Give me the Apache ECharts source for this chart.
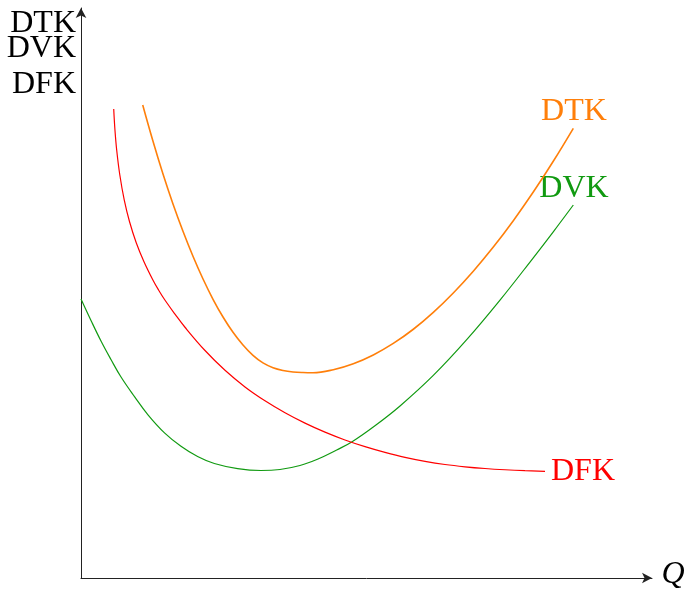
<!DOCTYPE html>
<html>
<head>
<meta charset="utf-8">
<script src="https://cdn.jsdelivr.net/npm/echarts@6/dist/echarts.min.js"></script>
<style>
html,body{margin:0;padding:0;background:#fff;}
#chart{width:694px;height:600px;}
</style>
</head>
<body>
<div id="chart"></div>
<script>
// Quantity (x) and cost per unit (y), arbitrary units
var dtkX = [1.081, 1.261, 1.436, 1.611, 1.786, 1.961, 2.137, 2.312, 2.487, 2.662, 2.837, 3.012, 3.187, 3.363, 3.538,
            3.713, 3.888, 4.063, 4.419, 4.769, 5.119, 5.469, 5.820, 6.170, 6.520, 6.870, 7.221, 7.571, 7.921, 8.271, 8.622];
var dtkY = [8.298, 7.661, 7.086, 6.561, 6.083, 5.645, 5.246, 4.890, 4.579, 4.311, 4.088, 3.906, 3.773, 3.689, 3.641,
            3.615, 3.604, 3.601, 3.654, 3.759, 3.913, 4.115, 4.364, 4.661, 5.001, 5.383, 5.806, 6.269, 6.771, 7.311, 7.889];

var dvkX = [0.000, 0.175, 0.350, 0.525, 0.701, 0.937, 1.173, 1.462, 1.751, 2.042, 2.335, 2.743, 3.152, 3.485, 3.835,
            4.151, 4.478, 4.741, 5.166, 5.587, 6.170, 6.755, 7.338, 7.921, 8.271, 8.622];
var dvkY = [4.895, 4.518, 4.158, 3.833, 3.526, 3.182, 2.863, 2.547, 2.312, 2.132, 2.009, 1.919, 1.886, 1.904, 1.974,
            2.088, 2.246, 2.386, 2.684, 3.018, 3.554, 4.181, 4.875, 5.618, 6.074, 6.544];

var dfkX = [0.573, 0.594, 0.625, 0.680, 0.757, 0.849, 0.969, 1.101, 1.259, 1.358, 1.469, 1.646, 1.821, 2.172, 2.522,
            2.872, 3.222, 3.573, 3.923, 4.273, 4.623, 4.974, 5.324, 5.674, 6.025, 6.375, 6.725, 7.075, 7.426, 7.776, 8.126];
var dfkY = [8.228, 7.868, 7.509, 7.070, 6.632, 6.254, 5.877, 5.553, 5.228, 5.053, 4.877, 4.629, 4.399, 3.991, 3.644,
            3.352, 3.109, 2.899, 2.717, 2.559, 2.422, 2.305, 2.204, 2.116, 2.046, 1.991, 1.951, 1.921, 1.899, 1.883, 1.872];

var yAxisLabels = ['DTK', 'DVK', 'DFK'];
var xAxisLabel = 'Q';
var seriesNames = ['DTK', 'DVK', 'DFK'];

function pairs(xs, ys) { return xs.map(function (x, i) { return [x, ys[i]]; }); }

var colOrange = '#ff7f0a', colGreen = '#119a11', colRed = '#ff0000';
var font = '32px "Liberation Serif", "DejaVu Serif", serif';

var chart = echarts.init(document.getElementById('chart'), null, {renderer: 'canvas'});
var axisCommon = {
  type: 'value', min: 0, max: 10,
  axisLine: {show: true, onZero: false, symbol: ['none', 'arrow'], symbolSize: [8, 10],
             lineStyle: {color: '#222', width: 1}},
  axisTick: {show: false}, axisLabel: {show: false}, splitLine: {show: false}
};
function lineSeries(name, xs, ys, color, width) {
  return {name: name, type: 'line', smooth: 0.4, showSymbol: false,
          data: pairs(xs, ys), lineStyle: {color: color, width: width}};
}
chart.setOption({
  animation: false,
  backgroundColor: '#fff',
  grid: {left: 81, right: 42, top: 8, bottom: 22},
  xAxis: axisCommon,
  yAxis: axisCommon,
  series: [
    lineSeries(seriesNames[0], dtkX, dtkY, colOrange, 1.6),
    lineSeries(seriesNames[1], dvkX, dvkY, colGreen, 1.2),
    lineSeries(seriesNames[2], dfkX, dfkY, colRed, 1.2)
  ],
  graphic: [
    {type: 'text', x: 76, y: 24, style: {text: yAxisLabels[0], font: font, fill: '#000', align: 'right', verticalAlign: 'middle'}},
    {type: 'text', x: 76, y: 49, style: {text: yAxisLabels[1], font: font, fill: '#000', align: 'right', verticalAlign: 'middle'}},
    {type: 'text', x: 76, y: 85, style: {text: yAxisLabels[2], font: font, fill: '#000', align: 'right', verticalAlign: 'middle'}},
    {type: 'text', x: 673, y: 575, style: {text: xAxisLabel, font: 'italic ' + font, fill: '#000', align: 'center', verticalAlign: 'middle'}},
    {type: 'text', x: 574, y: 112, style: {text: seriesNames[0], font: font, fill: colOrange, align: 'center', verticalAlign: 'middle'}},
    {type: 'text', x: 574, y: 189, style: {text: seriesNames[1], font: font, fill: colGreen, align: 'center', verticalAlign: 'middle'}},
    {type: 'text', x: 551, y: 472, style: {text: seriesNames[2], font: font, fill: colRed, align: 'left', verticalAlign: 'middle'}}
  ]
});
</script>
</body>
</html>
